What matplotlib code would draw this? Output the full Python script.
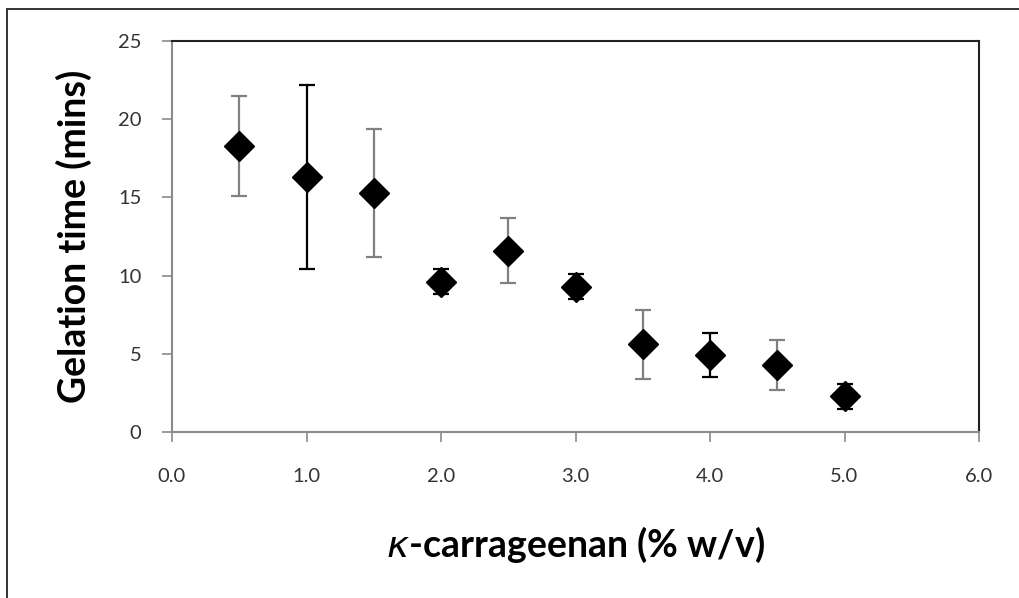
import matplotlib
matplotlib.use("Agg")
import matplotlib.pyplot as plt
from matplotlib.patches import Rectangle

# kappa-carrageenan concentration (% w/v) vs gelation time (mins)
conc = [0.5, 1.0, 1.5, 2.0, 2.5, 3.0, 3.5, 4.0, 4.5, 5.0]
gel_time = [18.3, 16.3, 15.3, 9.6, 11.6, 9.3, 5.6, 4.9, 4.3, 2.3]
gel_err = [3.2, 5.9, 4.1, 0.8, 2.1, 0.8, 2.2, 1.4, 1.6, 0.8]

x_ticks = [0.0, 1.0, 2.0, 3.0, 4.0, 5.0, 6.0]
y_ticks = [0, 5, 10, 15, 20, 25]

label_font = ['Lato', 'DejaVu Sans']

fig = plt.figure(figsize=(10.19, 5.98), dpi=100)
ax = fig.add_axes([172 / 1019, 1 - 432 / 598, 807 / 1019, 391 / 598])

# outer frame (only top and left edges show in the original)
fig.add_artist(Rectangle((7 / 1019, -0.1), 1.2, 1.1 - 9 / 598,
                         transform=fig.transFigure, fill=False,
                         edgecolor='#333333', linewidth=1.4))

# error bars, drawn one at a time so the stem shade can alternate
for i in range(len(conc)):
    stem = '#808080' if i % 2 == 0 else 'black'
    _, caps, bars = ax.errorbar(conc[i], gel_time[i], yerr=gel_err[i], fmt='none',
                                ecolor=stem, elinewidth=1.6, capsize=6, capthick=1.6)
    for c in caps:
        c.set_color('black')

ax.plot(conc, gel_time, linestyle='none', marker='D', markersize=15,
        color='black', zorder=3)

ax.set_xlim(0, 6)
ax.set_ylim(0, 25)
ax.set_xticks(x_ticks)
ax.set_xticklabels(['%.1f' % t for t in x_ticks])
ax.set_yticks(y_ticks)

for side in ['left', 'bottom']:
    ax.spines[side].set_color('#8a8a8a')
    ax.spines[side].set_linewidth(1.5)
for side in ['top', 'right']:
    ax.spines[side].set_color('#222222')
    ax.spines[side].set_linewidth(1.5)

ax.tick_params(direction='out', length=7, width=1.2, color='#8a8a8a',
               labelsize=14.5, labelcolor='#333333')
ax.tick_params(axis='y', pad=15)
ax.tick_params(axis='x', pad=19)
for lab in ax.get_xticklabels() + ax.get_yticklabels():
    lab.set_family(label_font)

ax.set_ylabel('Gelation time (mins)', fontsize=27, fontweight='bold',
              family=label_font, va='center')
ax.yaxis.set_label_coords(-0.121, 0.5)
ax.set_xlabel(r'$\kappa$-carrageenan (% w/v)', fontsize=27, fontweight='bold',
              family=label_font, va='center')
ax.xaxis.set_label_coords(0.5, -0.289)

fig.savefig('out.png', dpi=100)
